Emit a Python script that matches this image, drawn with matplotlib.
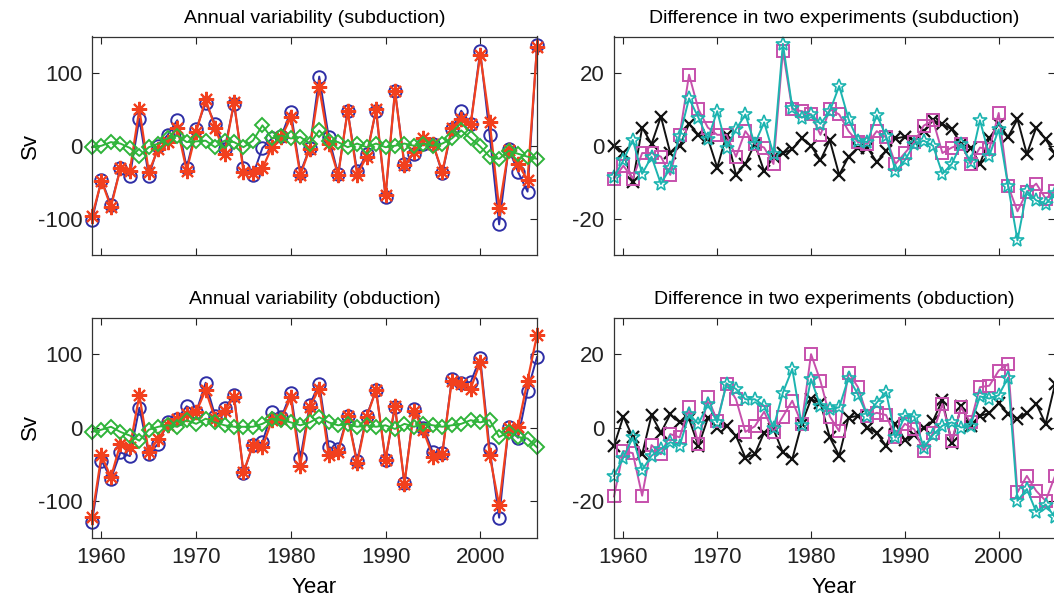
import numpy as np
import matplotlib
matplotlib.use("Agg")
import matplotlib.pyplot as plt

plt.rcParams['font.family'] = ['Liberation Sans', 'DejaVu Sans']
plt.rcParams['axes.unicode_minus'] = False

years = np.arange(1959, 2007)

# annual variability, subduction (Sv)
sub_blue = [-102, -47, -81, -31, -42, 37, -42, 0, 15, 35, -30, 23, 59, 30, -4, 57,
            -31, -40, -3, 10, 14, 47, -37, -3, 95, 12, -39, 48, -35, -12, 48, -70,
            75, -25, -11, 3, 3, -38, 23, 48, 30, 130, 15, -108, -4, -36, -63, 139]
sub_red = [-97, -48, -84, -31, -34, 50, -36, -4, 5, 25, -34, 19, 64, 25, -11, 60,
           -36, -38, -31, -2, 12, 39, -40, -4, 80, 3, -40, 48, -40, -15, 50, -68,
           75, -27, -9, 10, 3, -36, 25, 37, 30, 125, 33, -86, -6, -25, -47, 135]
sub_green = [-2, 0, 5, 3, -3, -14, -2, 3, 10, 14, 5, 6, 7, -2, 7, 5,
             -2, 7, 28, 10, 14, 10, 12, 3, 21, 7, 5, -2, 3, -2, 3, -2,
             0, 3, 0, 3, 0, 3, 10, 21, 10, -1, -15, -18, -7, -11, -15, -18]

# annual variability, obduction (Sv)
obd_blue = [-129, -45, -70, -34, -39, 27, -36, -22, 7, 12, 29, 21, 61, 16, 26, 44,
            -62, -24, -20, 21, 14, 47, -42, 31, 60, -27, -29, 16, -46, 16, 51, -44,
            28, -76, 25, 0, -34, -35, 66, 61, 62, 95, -29, -123, 1, -14, 50, 96]
obd_red = [-122, -38, -68, -22, -27, 44, -34, -15, 3, 12, 19, 21, 51, 12, 23, 42,
           -61, -24, -27, 10, 12, 41, -52, 28, 53, -38, -34, 16, -49, 14, 51, -44,
           30, -77, 23, -4, -40, -36, 64, 60, 53, 89, -38, -106, 0, 1, 64, 126]
obd_green = [-6, -3, 1, -6, -11, -18, -3, 1, 3, 1, 10, 5, 12, 7, 3, 1,
             1, 1, 5, 12, 10, 7, 3, 7, 14, 7, 3, 5, 1, 3, 1, 3,
             -2, 5, 1, 5, 3, 1, 3, 5, 10, 7, 10, -13, -6, -13, -15, -27]

# difference in two experiments, subduction (Sv)
dsub_black = [0, -2, -10, 5, 0.5, 8, -2, 0, 6, 3, 2, -6, 3, -8, -5, 0.5,
              -7, -3, -2, -1, 2, 0, -4, 1.5, -8, -3, -0.5, -0.5, -4.5, -1.4, 2, 2.5,
              1.4, 4, 7, 6, 4.5, 0.5, -0.5, -5, 2, 6, 2.4, 7.3, -2.3, 5, 1.8, -2.3]
dsub_magenta = [-9, -5.5, -9, -2, -2, -3, -8, 3, 19.5, 10, 5, 3, 3, -3, 4, 0.5,
                -0.5, -5, 26, 10, 9.5, 8.6, 3, 10, 8.6, 4, 1, 0.5, 4, 2.3, -5, -2,
                1, 5.5, 7, -2, -0.5, 0.5, -5, -0.5, -1, 9, -11, -18, -12.7, -10.4, -14.5, -12.5]
dsub_cyan = [-8.6, -4, 1.6, -7.7, -3, -10.5, -6, 2.7, 13, 7.7, 1.8, 9.5, -0.5, 4.5, 8.6, 0.5,
             6.4, -2.3, 28, 10.5, 7.7, 8.6, 6, 9.5, 16.4, 7.3, 1.4, 1, 8.4, 2.7, -7, -4,
             0.5, 1.4, 0, -7.7, -5, 0.5, -4.5, 7, -2.7, 4.5, -11, -26, -12.5, -15, -16, -13]

# difference in two experiments, obduction (Sv)
dobd_black = [-5, 3, -2.7, -7.3, 3.4, -1.4, 3.6, 1.4, 2.3, -5, 2.5, 0, 0.5, -2.3, -8.2, -7.3,
              -1.4, -0.5, -6.8, -8.6, 1, 7.7, 6.8, -2.7, -7.7, 2.7, 3.2, 0, -1.5, -5, 1, -3.4,
              -2, 0, 1.8, 7.5, -4.3, 5.9, 0.5, 3.2, 3.9, 6.6, 3.8, 2.4, 4, 6.5, 1, 11.8]
dobd_magenta = [-18.8, -6.4, -7, -18.6, -4.8, -7.3, -1.8, -2.7, 5.5, -4.5, 8.2, 1.8, 12, 7.7, -1.2, 0.3,
                4.3, -1.2, 3, 7.3, 1, 20, 12.7, 3, -1, 15, 11, 3.2, 4, 3.4, -2.7, 1,
                -0.5, -6.4, -1.4, 6.4, -3.6, 5.5, 1.4, 11, 11.4, 15.5, 17.3, -17.7, -13.2, -17.3, -20, -13.2]
dobd_cyan = [-13.2, -8.2, -2.7, -11.6, -7.7, -5.9, -4, -5, 3.6, 1, 6.4, 1.4, 12, 10.5, 7.7, 7.7,
             5.9, 0, 9.5, 16, 0.6, 13.2, 5.9, 5, 5.5, 13.6, 9, 3.2, 6.8, 9.7, -2.7, 3.2,
             3, -5.5, -2, 0.5, 1.4, 0, 0.5, 8.5, 7.9, 8.8, 13.6, -20, -16.8, -23, -21, -24.5]

c_blue = '#2e2ea6'
c_red = '#f2401e'
c_green = '#2fb43a'
c_black = '#111111'
c_mag = '#c650ac'
c_cyan = '#1cb4b0'
asterisk = (8, 2, 0)

fig = plt.figure(figsize=(10.54, 5.99), dpi=100)
W, H = 1054.0, 599.0

def make_axes(x0, x1, y0, y1):
    return fig.add_axes([x0 / W, 1 - y1 / H, (x1 - x0) / W, (y1 - y0) / H])

ax_tl = make_axes(92, 537, 36.5, 255)
ax_bl = make_axes(92, 537, 317.5, 537.5)
ax_tr = make_axes(614, 1055, 36.5, 255)
ax_br = make_axes(614, 1055, 317.5, 537.5)

def left_panel(ax, blue, red, green, title):
    ax.plot(years, blue, '-', color=c_blue, lw=1.4, marker='o', ms=9,
            mfc='none', mec=c_blue, mew=1.4, clip_on=False)
    ax.plot(years, red, '-', color=c_red, lw=1.6, marker=asterisk, ms=11,
            mec=c_red, mew=1.5, clip_on=False)
    ax.plot(years, green, '-', color=c_green, lw=1.4, marker='D', ms=7,
            mfc='none', mec=c_green, mew=1.4, clip_on=False)
    ax.set_ylim(-150, 150)
    ax.set_yticks([-100, 0, 100])
    ax.set_ylabel('Sv', fontsize=16)
    ax.yaxis.set_label_coords(-0.115, 0.5)
    ax.set_title(title, fontsize=14, pad=10)

def right_panel(ax, black, mag, cyan, title):
    ax.plot(years, black, '-', color=c_black, lw=1.4, marker='x', ms=8,
            mec=c_black, mew=1.6, clip_on=False)
    ax.plot(years, mag, '-', color=c_mag, lw=1.4, marker='s', ms=8,
            mfc='none', mec=c_mag, mew=1.4, clip_on=False)
    ax.plot(years, cyan, '-', color=c_cyan, lw=1.4, marker='*', ms=10,
            mfc='none', mec=c_cyan, mew=1.2, clip_on=False)
    ax.set_ylim(-30, 30)
    ax.set_yticks([-20, 0, 20])
    ax.set_title(title, fontsize=14, pad=10)

left_panel(ax_tl, sub_blue, sub_red, sub_green, 'Annual variability (subduction)')
left_panel(ax_bl, obd_blue, obd_red, obd_green, 'Annual variability (obduction)')
right_panel(ax_tr, dsub_black, dsub_magenta, dsub_cyan, 'Difference in two experiments (subduction)')
right_panel(ax_br, dobd_black, dobd_magenta, dobd_cyan, 'Difference in two experiments (obduction)')

for ax in (ax_tl, ax_bl, ax_tr, ax_br):
    ax.set_xlim(1959, 2006)
    ax.set_xticks([1960, 1970, 1980, 1990, 2000])
    ax.tick_params(direction='in', top=True, right=True, length=5, width=0.8,
                   labelsize=16, colors='#222222', pad=7)
    for sp in ax.spines.values():
        sp.set_color('#333333')
        sp.set_linewidth(0.9)

for ax in (ax_tl, ax_tr):
    ax.tick_params(labelbottom=False)
for ax in (ax_bl, ax_br):
    ax.set_xlabel('Year', fontsize=16, labelpad=6)

fig.savefig('out.png', dpi=100)
